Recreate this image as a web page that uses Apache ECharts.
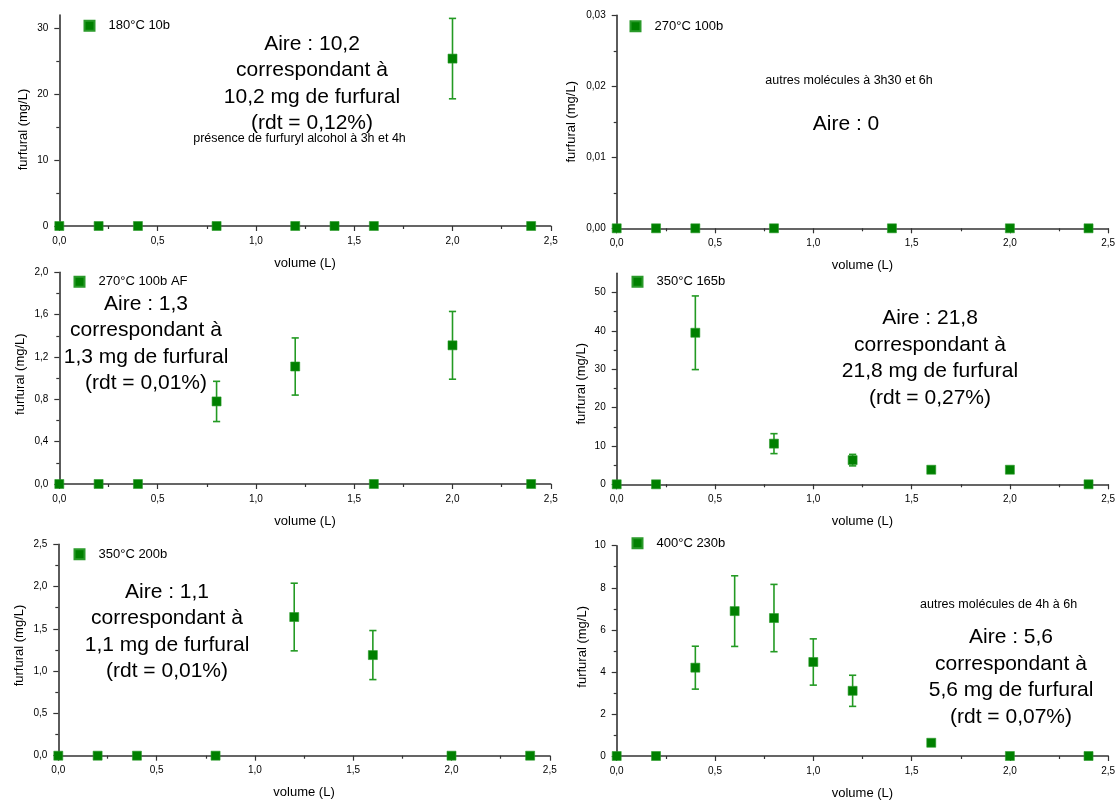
<!DOCTYPE html>
<html>
<head>
<meta charset="utf-8">
<script src="https://cdn.jsdelivr.net/npm/echarts@6/dist/echarts.min.js"></script>
<style>
  html, body { margin: 0; padding: 0; background: #ffffff; }
  #chart { width: 1120px; height: 801px; }
</style>
</head>
<body>
<div id="chart"></div>
<script>
// ---------------- DATA ----------------
const seriesNames = ['180°C 10b', '270°C 100b', '270°C 100b AF', '350°C 165b', '350°C 200b', '400°C 230b'];

const vol1 = [0, 0.2, 0.4, 0.8, 1.2, 1.4, 1.6, 2.0, 2.4];
const fur1 = [0, 0, 0, 0, 0, 0, 0, 25.4, 0];
const err1 = [0, 0, 0, 0, 0, 0, 0, 6.1, 0];

const vol2 = [0, 0.2, 0.4, 0.8, 1.4, 2.0, 2.4];
const fur2 = [0, 0, 0, 0, 0, 0, 0];
const err2 = [0, 0, 0, 0, 0, 0, 0];

const vol3 = [0, 0.2, 0.4, 0.8, 1.2, 1.6, 2.0, 2.4];
const fur3 = [0, 0, 0, 0.78, 1.11, 0, 1.31, 0];
const err3 = [0, 0, 0, 0.19, 0.27, 0, 0.32, 0];

const vol4 = [0, 0.2, 0.4, 0.8, 1.2, 1.6, 2.0, 2.4];
const fur4 = [0, 0, 39.5, 10.6, 6.3, 3.8, 3.8, 0];
const err4 = [0, 0, 9.6, 2.6, 1.5, 0.4, 0.4, 0];

const vol5 = [0, 0.2, 0.4, 0.8, 1.2, 1.6, 2.0, 2.4];
const fur5 = [0, 0, 0, 0, 1.64, 1.19, 0, 0];
const err5 = [0, 0, 0, 0, 0.40, 0.29, 0, 0];

const vol6 = [0, 0.2, 0.4, 0.6, 0.8, 1.0, 1.2, 1.6, 2.0, 2.4];
const fur6 = [0, 0, 4.2, 6.89, 6.56, 4.47, 3.1, 0.63, 0, 0];
const err6 = [0, 0, 1.02, 1.68, 1.6, 1.1, 0.74, 0, 0, 0];

// axis ticks
const xMax = 2.5;
const xTickStep = 0.5;
const yMax = [32, 0.03, 2.0, 55, 2.5, 10];
const yMajorTicks = [
  [0, 10, 20, 30],
  [0, 0.01, 0.02, 0.03],
  [0, 0.4, 0.8, 1.2, 1.6, 2.0],
  [0, 10, 20, 30, 40, 50],
  [0, 0.5, 1.0, 1.5, 2.0, 2.5],
  [0, 2, 4, 6, 8, 10]
];
const yMinorTicks = [
  [5, 15, 25],
  [0.005, 0.015, 0.025],
  [0.2, 0.6, 1.0, 1.4, 1.8],
  [5, 15, 25, 35, 45],
  [0.25, 0.75, 1.25, 1.75, 2.25],
  [1, 3, 5, 7, 9]
];
const yDecimals = [0, 2, 1, 0, 1, 0];

// annotation texts
const notesBig = [
  'Aire : 10,2\ncorrespondant à\n10,2 mg de furfural\n(rdt = 0,12%)',
  'Aire : 0',
  'Aire : 1,3\ncorrespondant à\n1,3 mg de furfural\n(rdt = 0,01%)',
  'Aire : 21,8\ncorrespondant à\n21,8 mg de furfural\n(rdt = 0,27%)',
  'Aire : 1,1\ncorrespondant à\n1,1 mg de furfural\n(rdt = 0,01%)',
  'Aire : 5,6\ncorrespondant à\n5,6 mg de furfural\n(rdt = 0,07%)'
];
const notesSmall = [
  'présence de furfuryl alcohol à 3h et 4h',
  'autres molécules à 3h30 et 6h',
  '',
  '',
  '',
  'autres molécules de 4h à 6h'
];
const xTitle = 'volume (L)';
const yTitle = 'furfural (mg/L)';

// ---------------- LAYOUT ----------------
const grids = [
  { left: 59.3, top: 15.1, width: 491.5, height: 210.9 },
  { left: 616.7, top: 15.3, width: 491.5, height: 213 },
  { left: 59.3, top: 272.3, width: 491.5, height: 211.7 },
  { left: 616.7, top: 273.3, width: 491.5, height: 211 },
  { left: 58.3, top: 544.3, width: 491.5, height: 211.4 },
  { left: 616.7, top: 545.7, width: 491.5, height: 212 }
];
const yNameGap = [29, 39, 32, 29, 32.5, 28];
const yNamePad = [[0, 18, 0, 0], [0, 0, 0, 0], [0, 0, 0, 8], [0, 10, 0, 0], [0, 0, 0, 9], [0, 0, 0, 8]];
const legendPos = [
  { left: 83.5, top: 18.7 },
  { left: 629.5, top: 19.2 },
  { left: 73.5, top: 274.7 },
  { left: 631.5, top: 274.7 },
  { left: 73.5, top: 547.3 },
  { left: 631.5, top: 536.3 }
];
const bigNotePos = [
  { x: 312, y: 83.5 },
  { x: 846, y: 124 },
  { x: 146, y: 343.5 },
  { x: 930, y: 358 },
  { x: 167, y: 631.8 },
  { x: 1011, y: 677 }
];
const smallNotePos = [
  { x: 299.5, y: 138.5 },
  { x: 849, y: 81 },
  null, null, null,
  { x: 998.6, y: 605 }
];

const GREEN = '#008000';
const ERR_GREEN = '#239a23';
const AXIS_COLOR = '#333333';
const FONT = 'Liberation Sans, Arial, sans-serif';

const vols = [vol1, vol2, vol3, vol4, vol5, vol6];
const furs = [fur1, fur2, fur3, fur4, fur5, fur6];
const errs = [err1, err2, err3, err4, err5, err6];

const fmt = (v, d) => v.toFixed(d).replace('.', ',');

const option = {
  backgroundColor: '#ffffff',
  animation: false,
  textStyle: { fontFamily: FONT },
  grid: grids.map(g => Object.assign({ containLabel: false }, g)),
  legend: seriesNames.map((n, i) => ({
    data: [n],
    left: legendPos[i].left,
    top: legendPos[i].top,
    padding: 0,
    icon: 'rect',
    itemWidth: 10,
    itemHeight: 10,
    selectedMode: false,
    textStyle: { fontSize: 13, color: '#000', fontFamily: FONT, lineHeight: 14, padding: [0, 0, 0, 9] }
  })),
  xAxis: seriesNames.map((n, i) => ({
    type: 'value',
    gridIndex: i,
    min: 0,
    max: xMax,
    interval: xTickStep,
    name: xTitle,
    nameLocation: 'middle',
    nameGap: 30,
    nameTextStyle: { fontSize: 13, color: '#000', fontFamily: FONT, lineHeight: 14 },
    axisLine: { show: true, onZero: false, lineStyle: { color: AXIS_COLOR, width: 1.6 } },
    axisTick: { show: true, inside: false, length: 5, lineStyle: { color: AXIS_COLOR, width: 1.2 } },
    minorTick: { show: true, splitNumber: 2, length: 3, lineStyle: { color: AXIS_COLOR, width: 1.2 } },
    splitLine: { show: false },
    axisLabel: { fontSize: 10, color: '#000', margin: 10, fontFamily: FONT, formatter: v => fmt(v, 1) }
  })),
  yAxis: [].concat(
    seriesNames.map((n, i) => ({
      type: 'value',
      gridIndex: i,
      position: 'left',
      min: 0,
      max: yMax[i],
      name: yTitle,
      nameLocation: 'middle',
      nameGap: yNameGap[i],
      nameMoveOverlap: false,
      nameTextStyle: { fontSize: 13, color: '#000', fontFamily: FONT, padding: yNamePad[i] },
      axisLine: { show: true, onZero: false, lineStyle: { color: AXIS_COLOR, width: 1.6 } },
      axisTick: { show: true, inside: false, length: 5, customValues: yMajorTicks[i], lineStyle: { color: AXIS_COLOR, width: 1.2 } },
      splitLine: { show: false },
      axisLabel: { fontSize: 10, color: '#000', margin: 11, fontFamily: FONT, customValues: yMajorTicks[i], formatter: v => fmt(v, yDecimals[i]) }
    })),
    seriesNames.map((n, i) => ({
      type: 'value',
      gridIndex: i,
      position: 'left',
      offset: 0,
      min: 0,
      max: yMax[i],
      axisLine: { show: false },
      axisTick: { show: true, inside: false, length: 3, customValues: yMinorTicks[i], lineStyle: { color: AXIS_COLOR, width: 1.2 } },
      splitLine: { show: false },
      axisLabel: { show: false }
    }))
  ),
  series: [].concat(
    seriesNames.map((n, i) => ({
      type: 'custom',
      name: n + ' err',
      xAxisIndex: i,
      yAxisIndex: i,
      clip: false,
      z: 2,
      encode: { x: 0, y: 1 },
      data: vols[i].map((v, k) => [v, furs[i][k], errs[i][k]]).filter(d => d[2] > 0),
      renderItem: (params, api) => {
        const x = api.value(0), y = api.value(1), e = api.value(2);
        const t = api.coord([x, y + e]);
        const b = api.coord([x, y - e]);
        const w = 3.6;
        const st = { stroke: ERR_GREEN, lineWidth: 1.6 };
        return {
          type: 'group',
          children: [
            { type: 'line', shape: { x1: t[0], y1: t[1], x2: b[0], y2: b[1] }, style: st },
            { type: 'line', shape: { x1: t[0] - w, y1: t[1], x2: t[0] + w, y2: t[1] }, style: st },
            { type: 'line', shape: { x1: b[0] - w, y1: b[1], x2: b[0] + w, y2: b[1] }, style: st }
          ]
        };
      }
    })),
    seriesNames.map((n, i) => ({
      type: 'scatter',
      name: n,
      xAxisIndex: i,
      yAxisIndex: i,
      clip: false,
      z: 3,
      symbol: 'rect',
      symbolSize: 9,
      itemStyle: { color: GREEN, borderColor: '#2a9a2a', borderWidth: 0.6, opacity: 1 },
      data: vols[i].map((v, k) => [v, furs[i][k]])
    }))
  ),
  graphic: [].concat(
    notesBig.map((t, i) => ({
      type: 'text',
      x: bigNotePos[i].x,
      y: bigNotePos[i].y,
      silent: true,
      style: {
        text: t,
        align: 'center',
        verticalAlign: 'middle',
        fontSize: 21,
        lineHeight: 26.5,
        fontFamily: FONT,
        fill: '#000'
      }
    })),
    notesSmall.map((t, i) => t ? ({
      type: 'text',
      x: smallNotePos[i].x,
      y: smallNotePos[i].y,
      silent: true,
      style: {
        text: t,
        align: 'center',
        verticalAlign: 'middle',
        fontSize: 12.5,
        fontFamily: FONT,
        fill: '#000'
      }
    }) : null).filter(Boolean)
  )
};

const chart = echarts.init(document.getElementById('chart'), null, { renderer: 'canvas' });
chart.setOption(option);
</script>
</body>
</html>
